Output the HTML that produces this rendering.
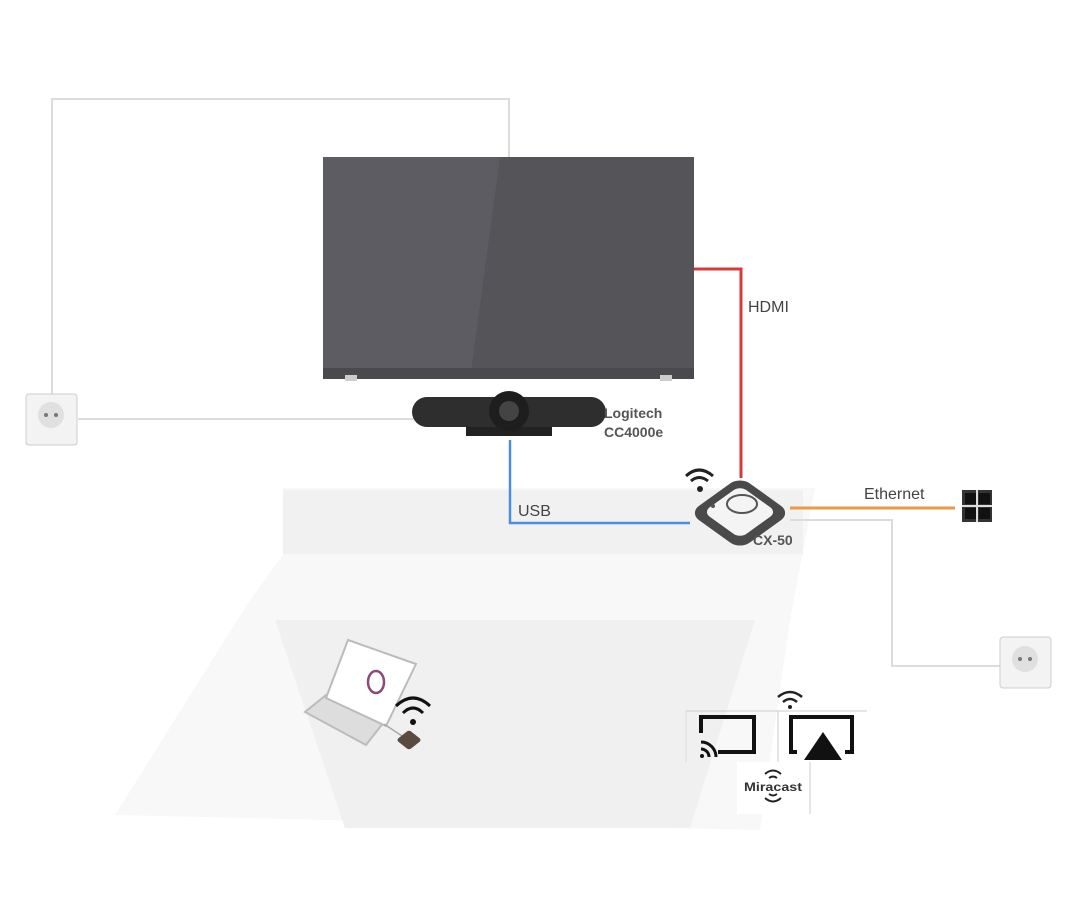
<!DOCTYPE html>
<html><head><meta charset="utf-8"><style>
html,body{margin:0;padding:0;background:#fff;}
svg{display:block;font-family:"Liberation Sans",sans-serif;}
</style></head><body>
<svg width="1080" height="910" viewBox="0 0 1080 910" xmlns="http://www.w3.org/2000/svg">
<!-- floor / table shapes -->
<polygon points="283,488 815,488 790,620 760,830 115,815 250,600 283,555" fill="#f8f8f8"/>
<rect x="283" y="490" width="520" height="64" fill="#f1f1f1"/>
<polygon points="275,620 755,620 690,828 345,828" fill="#f0f0f0"/>

<!-- power cables -->
<polyline points="509,157 509,99 52,99 52,398" fill="none" stroke="#dcdcdc" stroke-width="2"/>
<line x1="78" y1="419" x2="415" y2="419" stroke="#dcdcdc" stroke-width="2"/>
<polyline points="790,520 892,520 892,666 1000,666" fill="none" stroke="#dcdcdc" stroke-width="2"/>

<!-- HDMI -->
<polyline points="694,269 741,269 741,478" fill="none" stroke="#d9383a" stroke-width="3"/>
<text x="748" y="312" font-size="16" fill="#444">HDMI</text>
<!-- USB -->
<polyline points="510,440 510,523 690,523" fill="none" stroke="#4a90d9" stroke-width="2.5"/>
<text x="518" y="516" font-size="16" fill="#444">USB</text>
<!-- Ethernet -->
<line x1="790" y1="508" x2="955" y2="508" stroke="#e89a45" stroke-width="3"/>
<text x="864" y="499" font-size="16" fill="#444">Ethernet</text>
<!-- ethernet jack -->
<rect x="962" y="490" width="30" height="32" fill="#333"/>
<rect x="965" y="493" width="11" height="11" fill="#111"/><rect x="979" y="493" width="11" height="11" fill="#111"/>
<rect x="965" y="508" width="11" height="11" fill="#111"/><rect x="979" y="508" width="11" height="11" fill="#111"/>
<line x1="977" y1="490" x2="977" y2="522" stroke="#ddd" stroke-width="2"/>
<line x1="962" y1="506" x2="992" y2="506" stroke="#ddd" stroke-width="2"/>

<!-- TV -->
<rect x="323" y="157" width="371" height="222" fill="#5c5c62"/>
<polygon points="500,157 694,157 694,379 470,379" fill="#555559"/>
<rect x="323" y="368" width="371" height="11" fill="#4a4a4e"/>
<rect x="345" y="375" width="12" height="6" fill="#ccc"/><rect x="660" y="375" width="12" height="6" fill="#ccc"/>

<!-- sockets -->
<rect x="26" y="394" width="51" height="51" rx="3" fill="#f3f3f3" stroke="#ccc"/>
<circle cx="51" cy="415" r="13" fill="#e0e0e0"/><circle cx="46" cy="415" r="2" fill="#777"/><circle cx="56" cy="415" r="2" fill="#777"/>
<rect x="1000" y="637" width="51" height="51" rx="3" fill="#f3f3f3" stroke="#ccc"/>
<circle cx="1025" cy="659" r="13" fill="#e0e0e0"/><circle cx="1020" cy="659" r="2" fill="#777"/><circle cx="1030" cy="659" r="2" fill="#777"/>

<!-- camera -->
<rect x="466" y="422" width="86" height="14" fill="#222"/>
<rect x="412" y="397" width="194" height="30" rx="15" fill="#2e2e2e"/>
<circle cx="509" cy="411" r="20" fill="#1e1e1e"/><circle cx="509" cy="411" r="10" fill="#444"/>
<text x="604" y="418" font-size="14" font-weight="bold" fill="#555">Logitech</text>
<text x="604" y="437" font-size="14" font-weight="bold" fill="#555">CC4000e</text>

<!-- CX-50 -->
<g transform="translate(740,513) scale(1,0.72) rotate(45)">
<rect x="-36" y="-36" width="72" height="72" rx="14" fill="#4a4a4a"/>
<rect x="-27" y="-27" width="52" height="52" rx="9" fill="#f4f4f4"/>
</g>
<ellipse cx="742" cy="504" rx="15" ry="9" fill="#f4f4f4" stroke="#555" stroke-width="2"/>
<circle cx="713" cy="506" r="2" fill="#555"/>
<g fill="none" stroke="#222" stroke-width="3">
<path d="M686,476 Q699,464 713,476"/><path d="M691,481 Q699,474 708,481"/></g>
<circle cx="700" cy="489" r="3" fill="#222"/>
<text x="753" y="545" font-size="14" font-weight="bold" fill="#555">CX-50</text>

<!-- laptop -->
<polygon points="326,695 384,722 366,745 305,712" fill="#ddd" stroke="#bbb" stroke-width="2"/>
<polygon points="348,640 416,664 386,726 326,698" fill="#fff" stroke="#bbb" stroke-width="2"/>
<ellipse cx="376" cy="682" rx="8" ry="11" fill="none" stroke="#8a4a7a" stroke-width="2.5"/>
<line x1="384" y1="724" x2="405" y2="738" stroke="#aaa" stroke-width="1.5"/>
<g fill="none" stroke="#111" stroke-width="3">
<path d="M396,706 Q413,690 430,706"/><path d="M403,713 Q413,703 423,713"/></g>
<circle cx="413" cy="722" r="3" fill="#111"/>
<g transform="translate(409,740) scale(1,0.8) rotate(45)"><rect x="-9" y="-9" width="18" height="18" rx="3" fill="#5a4a40"/></g>

<!-- cast icons -->
<line x1="686" y1="711" x2="867" y2="711" stroke="#ccc"/>
<line x1="778" y1="711" x2="778" y2="762" stroke="#ccc"/>
<line x1="686" y1="711" x2="686" y2="762" stroke="#ddd"/>
<rect x="737" y="762" width="73" height="52" fill="#fff"/>
<line x1="810" y1="762" x2="810" y2="814" stroke="#ccc"/>
<path d="M701,733 L701,717 L754,717 L754,752 L718,752" fill="none" stroke="#111" stroke-width="4"/>
<g fill="none" stroke="#111" stroke-width="3">
<path d="M701,742 A15,15 0 0 1 716,757"/><path d="M701,749 A8,8 0 0 1 709,757"/></g>
<circle cx="702" cy="756" r="2" fill="#111"/>
<path d="M797,752 L791,752 L791,717 L852,717 L852,752 L845,752" fill="none" stroke="#111" stroke-width="4"/>
<polygon points="804,760 842,760 823,732" fill="#111"/>
<g fill="none" stroke="#222" stroke-width="2.5">
<path d="M778,697 Q790,687 802,697"/><path d="M783,702 Q790,696 797,702"/></g>
<circle cx="790" cy="707" r="2" fill="#222"/>
<g fill="none" stroke="#222" stroke-width="2">
<path d="M765,774 Q773,767 781,774"/><path d="M769,778 Q773,775 777,778"/>
<path d="M765,798 Q773,805 781,798"/><path d="M769,794 Q773,797 777,794"/></g>
<text x="773" y="791" font-size="12" font-weight="bold" fill="#333" text-anchor="middle" textLength="58" lengthAdjust="spacingAndGlyphs">Miracast</text>
</svg>
</body></html>
